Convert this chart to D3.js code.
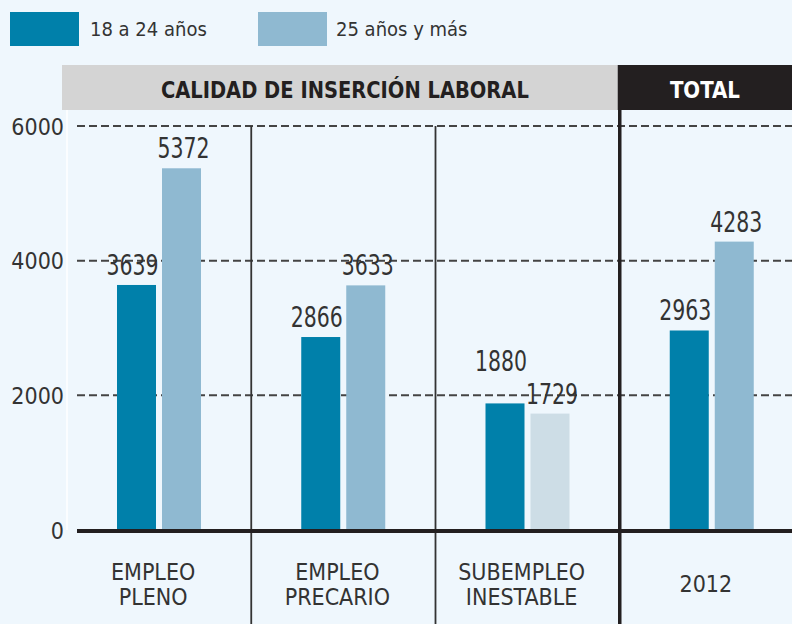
<!DOCTYPE html>
<html>
<head>
<meta charset="utf-8">
<style>
  html, body { margin: 0; padding: 0; background: #eff7fd; }
  svg { display: block; }
  text { font-family: 'Liberation Sans Narrow', 'DejaVu Sans Condensed', sans-serif; }
</style>
</head>
<body>
<div class="chart"></div>
<script src="https://d3js.org/d3.v7.min.js"></script>
<script>
  // datos
  const categories = ['EMPLEO PLENO', 'EMPLEO PRECARIO', 'SUBEMPLEO INESTABLE', '2012']
  const series = ['18 a 24 años', '25 años y más']
  const jovenes = [3639, 2866, 1880, 2963]
  const adultos = [5372, 3633, 1729, 4283]
  const yTicks = [0, 2000, 4000, 6000]

  const width = 792, height = 624

  const svg = d3.select('.chart')
                .append('svg')
                .attr('width', width)
                .attr('height', height)

  svg.append('rect')
     .attr('width', width)
     .attr('height', height)
     .attr('fill', '#eff7fd')

  const color = d3.scaleOrdinal()
                  .domain(series)
                  .range(['#0080aa', '#8fb9d1'])

  // escalas
  const xScale = d3.scaleBand()
                   .domain(categories)
                   .range([67, 804])

  const xSub = d3.scaleBand()
                 .domain(series)
                 .range([50, 134])
                 .paddingInner(6 / 45)

  const yScale = d3.scaleLinear()
                   .domain([0, 6000])
                   .range([530, 126])

  // leyenda
  const legend = svg.append('g')
  legend.selectAll('rect')
    .data(series)
    .join('rect')
    .attr('x', (d, i) => 10 + i * 248)
    .attr('y', 12)
    .attr('width', 69)
    .attr('height', 34)
    .attr('fill', d => color(d))
  legend.selectAll('text')
    .data(series)
    .join('text')
    .attr('x', (d, i) => 90 + i * 246)
    .attr('y', 36)
    .attr('font-size', 20)
    .attr('fill', '#333')
    .text(d => d)

  // cabecera
  const groupEnd = xScale('2012')
  svg.append('rect')
     .attr('x', 62).attr('y', 65)
     .attr('width', groupEnd - 62).attr('height', 45)
     .attr('fill', '#d4d4d4')
  svg.append('text')
     .attr('x', (62 + groupEnd) / 2 + 4)
     .attr('y', 98)
     .attr('text-anchor', 'middle')
     .attr('font-size', 23)
     .attr('font-weight', 'bold')
     .attr('fill', '#231f20')
     .attr('textLength', 368)
     .attr('lengthAdjust', 'spacingAndGlyphs')
     .text('CALIDAD DE INSERCIÓN LABORAL')
  svg.append('rect')
     .attr('x', groupEnd - 2).attr('y', 65)
     .attr('width', width - groupEnd + 2).attr('height', 45)
     .attr('fill', '#231f20')
  svg.append('text')
     .attr('x', groupEnd + xScale.bandwidth() / 2 - 7)
     .attr('y', 98)
     .attr('text-anchor', 'middle')
     .attr('font-size', 23)
     .attr('font-weight', 'bold')
     .attr('fill', '#fff')
     .attr('textLength', 70)
     .attr('lengthAdjust', 'spacingAndGlyphs')
     .text('TOTAL')

  // borde blanco izquierdo
  svg.append('line')
     .attr('x1', 67).attr('x2', 67)
     .attr('y1', 110).attr('y2', 530)
     .attr('stroke', '#fff')
     .attr('stroke-width', 1.5)

  // eje y
  const yAxis = d3.axisLeft(yScale)
                  .tickValues(yTicks)
                  .tickFormat(d3.format('d'))
                  .tickSize(0)
                  .tickPadding(0)
  const yAxisGroup = svg.append('g')
                        .attr('transform', 'translate(64,0)')
                        .call(yAxis)
  yAxisGroup.select('.domain').remove()
  yAxisGroup.selectAll('text')
            .attr('font-size', 23)
            .attr('fill', '#333')
            .attr('font-family', null)
            .attr('dy', '0.35em')

  // líneas de grilla punteadas
  svg.append('g')
    .selectAll('line')
    .data(yTicks.filter(d => d > 0))
    .join('line')
    .attr('x1', 77).attr('x2', width)
    .attr('y1', d => yScale(d)).attr('y2', d => yScale(d))
    .attr('stroke', '#444')
    .attr('stroke-width', 2)
    .attr('stroke-dasharray', '8,4')

  // separadores verticales
  svg.append('g')
    .selectAll('line')
    .data(categories.slice(1))
    .join('line')
    .attr('x1', d => xScale(d)).attr('x2', d => xScale(d))
    .attr('y1', d => d === '2012' ? 110 : yScale(6000))
    .attr('y2', height)
    .attr('stroke', d => d === '2012' ? '#231f20' : '#333')
    .attr('stroke-width', d => d === '2012' ? 3.5 : 1.8)

  // barras
  const rows = categories.map((c, i) => ({cat: c, values: [
    {s: series[0], v: jovenes[i], other: adultos[i]},
    {s: series[1], v: adultos[i], other: jovenes[i]}
  ]}))

  const groups = svg.append('g')
    .selectAll('g')
    .data(rows)
    .join('g')
    .attr('transform', d => `translate(${xScale(d.cat)},0)`)

  groups.selectAll('rect')
    .data(d => d.values.map(v => ({...v, cat: d.cat})))
    .join('rect')
    .attr('x', d => xSub(d.s))
    .attr('y', d => yScale(d.v))
    .attr('width', xSub.bandwidth())
    .attr('height', d => yScale(0) - yScale(d.v))
    .attr('fill', d => (d.cat === 'SUBEMPLEO INESTABLE' && d.s === series[1]) ? '#cddde6' : color(d.s))

  // etiquetas de valor; si las dos barras tienen alturas parecidas se escalona la oscura
  function labelY(d) {
    if (d.s === series[0] && Math.abs(d.v - d.other) < 400) {
      return yScale(Math.max(d.v, d.other)) - 32
    }
    return yScale(d.v) - 10
  }

  groups.selectAll('text.val')
    .data(d => d.values)
    .join('text')
    .attr('class', 'val')
    .attr('x', d => xSub(d.s) + xSub.bandwidth() / 2 + (d.s === series[0] ? -4 : 2))
    .attr('y', labelY)
    .attr('text-anchor', 'middle')
    .attr('font-size', 28)
    .attr('fill', '#333')
    .attr('textLength', 52)
    .attr('lengthAdjust', 'spacingAndGlyphs')
    .text(d => d.v)

  // línea base
  svg.append('line')
     .attr('x1', 77).attr('x2', width)
     .attr('y1', yScale(0) + 1).attr('y2', yScale(0) + 1)
     .attr('stroke', '#231f20')
     .attr('stroke-width', 4)

  // etiquetas de categoría
  const catLabels = svg.append('g')
    .selectAll('text')
    .data(categories)
    .join('text')
    .attr('x', d => xScale(d) + xScale.bandwidth() / 2 - 6)
    .attr('y', d => d === '2012' ? 592 : 580)
    .attr('text-anchor', 'middle')
    .attr('font-size', 23)
    .attr('fill', '#333')
  catLabels.selectAll('tspan')
    .data(d => d === '2012' ? [d] : d.split(' '))
    .join('tspan')
    .attr('x', function () { return d3.select(this.parentNode).attr('x') })
    .attr('dy', (d, i) => i === 0 ? 0 : 25)
    .text(d => d)
</script>
</body>
</html>
